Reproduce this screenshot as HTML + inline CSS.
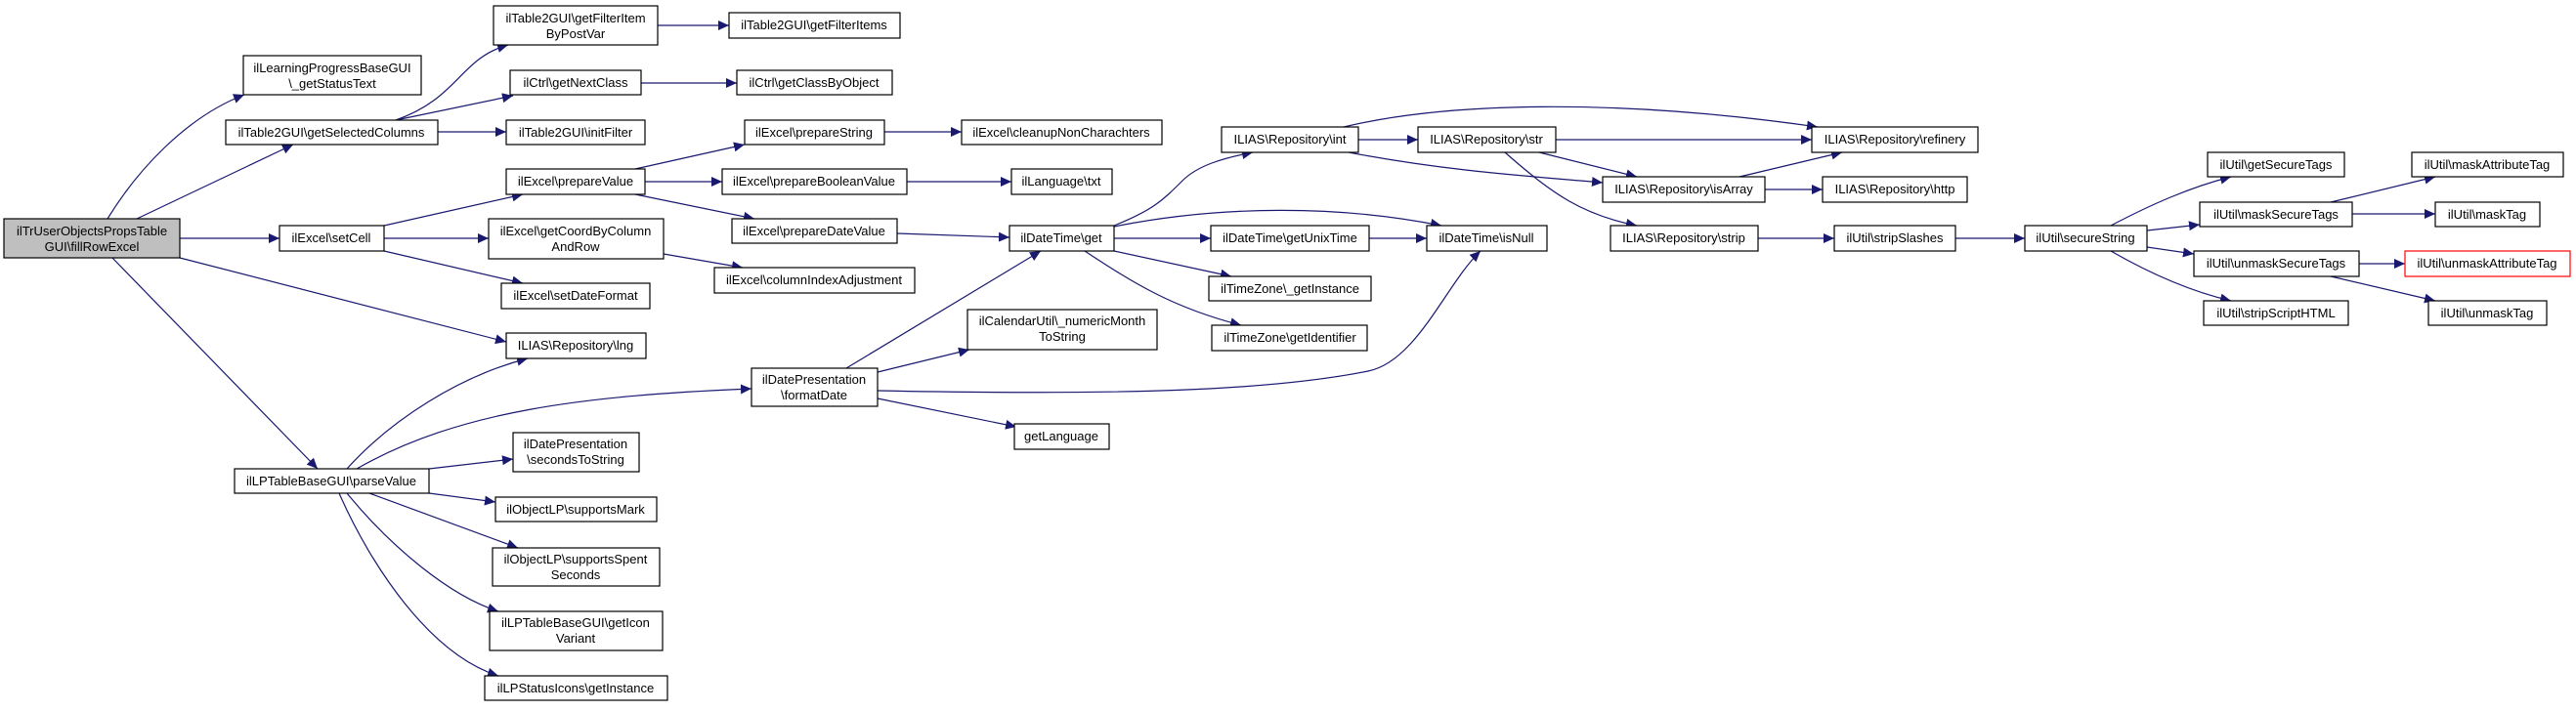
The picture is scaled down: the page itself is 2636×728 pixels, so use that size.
<!DOCTYPE html>
<html><head><meta charset="utf-8"><style>
html,body{margin:0;padding:0;background:#fff;}
svg text{font-family:"Liberation Sans",Arial,sans-serif;font-size:13px;fill:#000;text-anchor:middle;}
</style></head><body>
<svg width="2636" height="723" viewBox="0 0 2636 723" xmlns="http://www.w3.org/2000/svg">
<defs><marker id="a" markerUnits="userSpaceOnUse" markerWidth="12" markerHeight="10" refX="11" refY="5" orient="auto"><path d="M0,0 L11,5 L0,10 Z" fill="#191970"/></marker></defs>
<g fill="none" stroke="#191970" stroke-width="1.2" marker-end="url(#a)">
<path d="M110,224 C140,175 190,120 250,97"/>
<path d="M140,224 L300,148"/>
<path d="M184,244 L286,244"/>
<path d="M184,264 L518,350"/>
<path d="M115,264 L325,480"/>
<path d="M405,123 C470,100 470,60 520,46"/>
<path d="M405,123 L525,98"/>
<path d="M448,135 L518,135"/>
<path d="M673,26 L746,26"/>
<path d="M656,85 L754,85"/>
<path d="M393,231 L535,199"/>
<path d="M393,244 L500,244"/>
<path d="M393,257 L535,290"/>
<path d="M650,173 L762,148"/>
<path d="M660,186 L739,186"/>
<path d="M650,199 L772,224"/>
<path d="M679,260 L760,274"/>
<path d="M905,135 L984,135"/>
<path d="M928,186 L1035,186"/>
<path d="M918,239 L1033,243"/>
<path d="M355,480 C400,430 470,385 540,367"/>
<path d="M365,480 C470,420 600,405 769,398"/>
<path d="M439,480 L525,470"/>
<path d="M439,505 L507,514"/>
<path d="M378,505 L530,561"/>
<path d="M355,505 C400,560 460,610 510,626"/>
<path d="M347,505 C380,580 440,670 510,692"/>
<path d="M866,377 L1065,257"/>
<path d="M898,381 L992,358"/>
<path d="M898,400 C1150,405 1300,400 1400,380 C1450,370 1480,290 1515,257"/>
<path d="M898,408 L1040,437"/>
<path d="M1140,231 C1180,215 1190,205 1210,185 C1225,170 1250,162 1282,156"/>
<path d="M1140,232 C1250,210 1370,210 1475,231"/>
<path d="M1140,244 L1239,244"/>
<path d="M1140,257 L1260,283"/>
<path d="M1110,257 C1160,290 1200,315 1270,333"/>
<path d="M1401,244 L1460,244"/>
<path d="M1390,143 L1451,143"/>
<path d="M1375,130 C1480,105 1650,100 1860,130"/>
<path d="M1380,156 C1480,175 1560,180 1640,187"/>
<path d="M1592,143 L1854,143"/>
<path d="M1575,156 L1675,181"/>
<path d="M1540,156 C1590,200 1620,220 1675,231"/>
<path d="M1780,181 L1885,156"/>
<path d="M1806,194 L1865,194"/>
<path d="M1799,244 L1877,244"/>
<path d="M2001,244 L2072,244"/>
<path d="M2160,231 C2200,210 2240,192 2283,181"/>
<path d="M2197,236 L2251,230"/>
<path d="M2197,253 L2245,260"/>
<path d="M2160,257 C2200,280 2240,298 2283,308"/>
<path d="M2385,207 L2492,181"/>
<path d="M2407,219 L2492,219"/>
<path d="M2414,270 L2461,270"/>
<path d="M2385,283 L2492,308"/>
</g>
<g stroke="#000" stroke-width="1.2" fill="#fff">
<rect x="4" y="224" width="180" height="40" fill="#bfbfbf"/>
<rect x="249" y="57" width="182" height="40"/>
<rect x="505" y="6" width="168" height="40"/>
<rect x="522" y="72" width="134" height="25"/>
<rect x="231" y="123" width="217" height="25"/>
<rect x="518" y="123" width="142" height="25"/>
<rect x="518" y="173" width="142" height="26"/>
<rect x="286" y="231" width="107" height="26"/>
<rect x="500" y="224" width="179" height="41"/>
<rect x="513" y="290" width="152" height="26"/>
<rect x="518" y="341" width="143" height="26"/>
<rect x="769" y="377" width="129" height="39"/>
<rect x="525" y="443" width="129" height="40"/>
<rect x="240" y="480" width="199" height="25"/>
<rect x="507" y="509" width="165" height="25"/>
<rect x="504" y="561" width="171" height="39"/>
<rect x="501" y="626" width="177" height="40"/>
<rect x="496" y="692" width="187" height="25"/>
<rect x="746" y="13" width="175" height="26"/>
<rect x="754" y="72" width="159" height="25"/>
<rect x="762" y="123" width="143" height="25"/>
<rect x="739" y="173" width="189" height="26"/>
<rect x="749" y="224" width="169" height="25"/>
<rect x="731" y="274" width="205" height="26"/>
<rect x="984" y="123" width="205" height="25"/>
<rect x="1035" y="173" width="103" height="26"/>
<rect x="1033" y="231" width="107" height="26"/>
<rect x="990" y="317" width="194" height="41"/>
<rect x="1038" y="434" width="97" height="26"/>
<rect x="1250" y="130" width="140" height="26"/>
<rect x="1451" y="130" width="141" height="26"/>
<rect x="1640" y="181" width="166" height="26"/>
<rect x="1239" y="231" width="162" height="26"/>
<rect x="1460" y="231" width="123" height="26"/>
<rect x="1237" y="283" width="166" height="25"/>
<rect x="1240" y="333" width="159" height="26"/>
<rect x="1648" y="231" width="151" height="26"/>
<rect x="1854" y="130" width="170" height="26"/>
<rect x="1865" y="181" width="148" height="26"/>
<rect x="1877" y="231" width="124" height="26"/>
<rect x="2072" y="231" width="125" height="26"/>
<rect x="2259" y="156" width="140" height="25"/>
<rect x="2251" y="207" width="156" height="25"/>
<rect x="2245" y="257" width="169" height="26"/>
<rect x="2255" y="308" width="148" height="25"/>
<rect x="2468" y="156" width="155" height="25"/>
<rect x="2492" y="207" width="107" height="25"/>
<rect x="2461" y="257" width="169" height="26" stroke="#ff0000"/>
<rect x="2485" y="308" width="121" height="25"/>
</g>
<g>
<text x="94" y="241">ilTrUserObjectsPropsTable</text><text x="94" y="257">GUI\fillRowExcel</text>
<text x="340" y="74">ilLearningProgressBaseGUI</text><text x="340" y="90">\_getStatusText</text>
<text x="589" y="23">ilTable2GUI\getFilterItem</text><text x="589" y="39">ByPostVar</text>
<text x="589" y="89">ilCtrl\getNextClass</text>
<text x="339" y="140">ilTable2GUI\getSelectedColumns</text>
<text x="589" y="140">ilTable2GUI\initFilter</text>
<text x="589" y="190">ilExcel\prepareValue</text>
<text x="339" y="248">ilExcel\setCell</text>
<text x="589" y="241">ilExcel\getCoordByColumn</text><text x="589" y="257">AndRow</text>
<text x="589" y="307">ilExcel\setDateFormat</text>
<text x="589" y="358">ILIAS\Repository\lng</text>
<text x="833" y="393">ilDatePresentation</text><text x="833" y="409">\formatDate</text>
<text x="589" y="459">ilDatePresentation</text><text x="589" y="475">\secondsToString</text>
<text x="339" y="497">ilLPTableBaseGUI\parseValue</text>
<text x="589" y="526">ilObjectLP\supportsMark</text>
<text x="589" y="577">ilObjectLP\supportsSpent</text><text x="589" y="593">Seconds</text>
<text x="589" y="642">ilLPTableBaseGUI\getIcon</text><text x="589" y="658">Variant</text>
<text x="589" y="709">ilLPStatusIcons\getInstance</text>
<text x="833" y="30">ilTable2GUI\getFilterItems</text>
<text x="833" y="89">ilCtrl\getClassByObject</text>
<text x="833" y="140">ilExcel\prepareString</text>
<text x="833" y="190">ilExcel\prepareBooleanValue</text>
<text x="833" y="241">ilExcel\prepareDateValue</text>
<text x="833" y="291">ilExcel\columnIndexAdjustment</text>
<text x="1086" y="140">ilExcel\cleanupNonCharachters</text>
<text x="1086" y="190">ilLanguage\txt</text>
<text x="1086" y="248">ilDateTime\get</text>
<text x="1087" y="333">ilCalendarUtil\_numericMonth</text><text x="1087" y="349">ToString</text>
<text x="1086" y="451">getLanguage</text>
<text x="1320" y="147">ILIAS\Repository\int</text>
<text x="1521" y="147">ILIAS\Repository\str</text>
<text x="1723" y="198">ILIAS\Repository\isArray</text>
<text x="1320" y="248">ilDateTime\getUnixTime</text>
<text x="1521" y="248">ilDateTime\isNull</text>
<text x="1320" y="300">ilTimeZone\_getInstance</text>
<text x="1320" y="350">ilTimeZone\getIdentifier</text>
<text x="1723" y="248">ILIAS\Repository\strip</text>
<text x="1939" y="147">ILIAS\Repository\refinery</text>
<text x="1939" y="198">ILIAS\Repository\http</text>
<text x="1939" y="248">ilUtil\stripSlashes</text>
<text x="2134" y="248">ilUtil\secureString</text>
<text x="2329" y="173">ilUtil\getSecureTags</text>
<text x="2329" y="224">ilUtil\maskSecureTags</text>
<text x="2329" y="274">ilUtil\unmaskSecureTags</text>
<text x="2329" y="325">ilUtil\stripScriptHTML</text>
<text x="2545" y="173">ilUtil\maskAttributeTag</text>
<text x="2545" y="224">ilUtil\maskTag</text>
<text x="2545" y="274">ilUtil\unmaskAttributeTag</text>
<text x="2545" y="325">ilUtil\unmaskTag</text>
</g>
</svg>
</body></html>
